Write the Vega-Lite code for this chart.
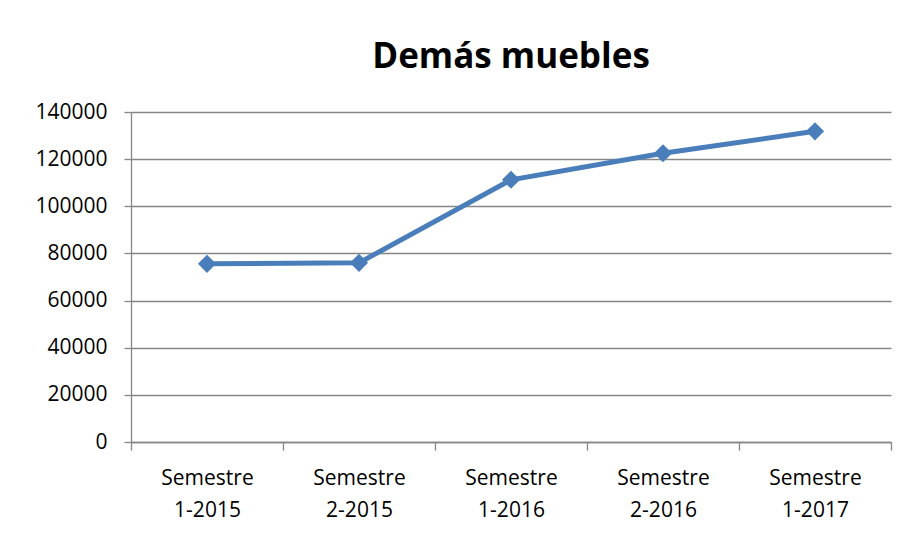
{
  "$schema": "https://vega.github.io/schema/vega-lite/v6.json",
  "width": 760,
  "height": 330,
  "autosize": {"type": "none"},
  "padding": {"left": 131, "top": 112, "right": 16, "bottom": 97},
  "background": "white",
  "title": {
    "text": "Demás muebles",
    "font": "Open Sans",
    "fontSize": 35,
    "fontWeight": "bold",
    "color": "#000000",
    "anchor": "middle",
    "offset": 26
  },
  "data": {
    "values": [
      {"periodo": "Semestre 1-2015", "valor": 75600},
      {"periodo": "Semestre 2-2015", "valor": 76000},
      {"periodo": "Semestre 1-2016", "valor": 111250},
      {"periodo": "Semestre 2-2016", "valor": 122500},
      {"periodo": "Semestre 1-2017", "valor": 131800}
    ]
  },
  "config": {
    "view": {"stroke": null},
    "axis": {
      "labelFont": "Open Sans",
      "labelFontSize": 21,
      "labelColor": "#000000",
      "domainColor": "#868686",
      "tickColor": "#868686",
      "gridColor": "#868686",
      "domainWidth": 1.3,
      "tickWidth": 1.3,
      "gridWidth": 1.3,
      "gridOpacity": 1
    }
  },
  "encoding": {
    "x": {
      "field": "periodo",
      "type": "nominal",
      "sort": null,
      "scale": {"paddingInner": 0, "paddingOuter": 0},
      "axis": {
        "title": null,
        "labelAngle": 0,
        "labelExpr": "split(datum.label, ' ')",
        "labelLineHeight": 32,
        "labelPadding": 17,
        "tickBand": "extent",
        "tickSize": 8,
        "grid": false
      }
    },
    "y": {
      "field": "valor",
      "type": "quantitative",
      "scale": {"domain": [0, 140000], "nice": false},
      "axis": {
        "title": null,
        "values": [0, 20000, 40000, 60000, 80000, 100000, 120000, 140000],
        "format": "d",
        "tickSize": 7,
        "labelPadding": 17,
        "grid": true
      }
    }
  },
  "layer": [
    {
      "mark": {"type": "line", "color": "#4a7ebb", "strokeWidth": 5}
    },
    {
      "mark": {"type": "point", "shape": "diamond", "filled": true, "color": "#4a7ebb", "opacity": 1, "size": 330}
    }
  ]
}
